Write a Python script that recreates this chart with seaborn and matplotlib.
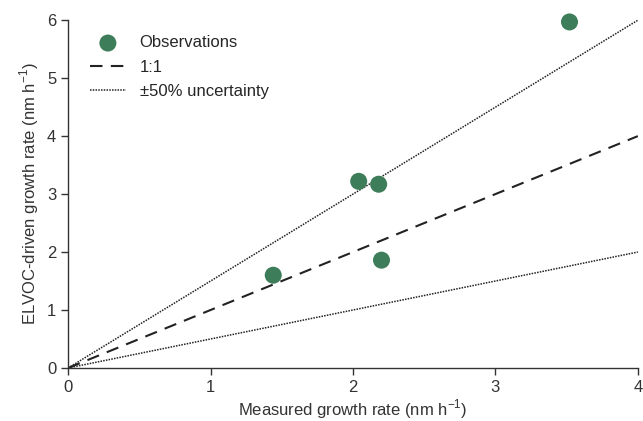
import numpy as np
import pandas as pd
import seaborn as sns
import matplotlib
matplotlib.use("Agg")
import matplotlib.pyplot as plt

# Observed growth rates (nm h^-1)
measured = [1.44, 2.04, 2.18, 2.20, 3.52]
elvoc_driven = [1.60, 3.22, 3.17, 1.86, 5.97]

# Reference lines: 1:1 and ±50%
line_x = [0, 4]
one_to_one = [0, 4]
upper_50 = [0, 6]
lower_50 = [0, 2]

sns.set_theme(style="ticks")
plt.rcParams["font.family"] = ["Liberation Sans", "DejaVu Sans"]
plt.rcParams["mathtext.fontset"] = "custom"
plt.rcParams["mathtext.rm"] = "Liberation Sans"

obs = pd.DataFrame({"measured": measured, "elvoc": elvoc_driven})

fig = plt.figure(figsize=(6.43, 4.21), dpi=100)
ax = fig.add_axes([0.106, 0.126, 0.886, 0.826])

ax.plot(line_x, upper_50, color="#222222", lw=1.1, ls=(0, (1, 0.8)), zorder=1)
ax.plot(line_x, lower_50, color="#222222", lw=1.1, ls=(0, (1, 0.8)), zorder=1)
ax.plot(line_x, one_to_one, color="#222222", lw=1.5, ls=(0, (6, 4)), label="1:1", zorder=1)

sns.scatterplot(data=obs, x="measured", y="elvoc", ax=ax, s=150, color="#3d7d5a",
                edgecolor="none", label="Observations", zorder=3, clip_on=False)

# proxy handle for the uncertainty lines
ax.plot([], [], color="#222222", lw=1.1, ls=(0, (1, 0.8)), label="±50% uncertainty")

handles, labels = ax.get_legend_handles_labels()
order = [labels.index("Observations"), labels.index("1:1"), labels.index("±50% uncertainty")]
ax.legend([handles[i] for i in order], [labels[i] for i in order], loc="upper left",
          bbox_to_anchor=(0.02, 0.985), frameon=False, fontsize=12, handlelength=2.2,
          handletextpad=0.8, labelspacing=0.55, borderaxespad=0.2)

ax.set_xlim(0, 4)
ax.set_ylim(0, 6)
ax.set_xticks([0, 1, 2, 3, 4])
ax.set_yticks([0, 1, 2, 3, 4, 5, 6])
ax.set_xlabel("Measured growth rate (nm h$^{\u2212\\mathrm{1}}$)", fontsize=12,
              color="#333333", labelpad=2)
ax.set_ylabel("ELVOC-driven growth rate (nm h$^{\u2212\\mathrm{1}}$)", fontsize=12,
              color="#333333", labelpad=4)
ax.tick_params(labelsize=12, colors="#333333", length=5, width=1, direction="out")
for side in ["top", "right"]:
    ax.spines[side].set_visible(False)
for side in ["left", "bottom"]:
    ax.spines[side].set_color("#333333")
    ax.spines[side].set_linewidth(1)

fig.savefig("out.png", dpi=100)
